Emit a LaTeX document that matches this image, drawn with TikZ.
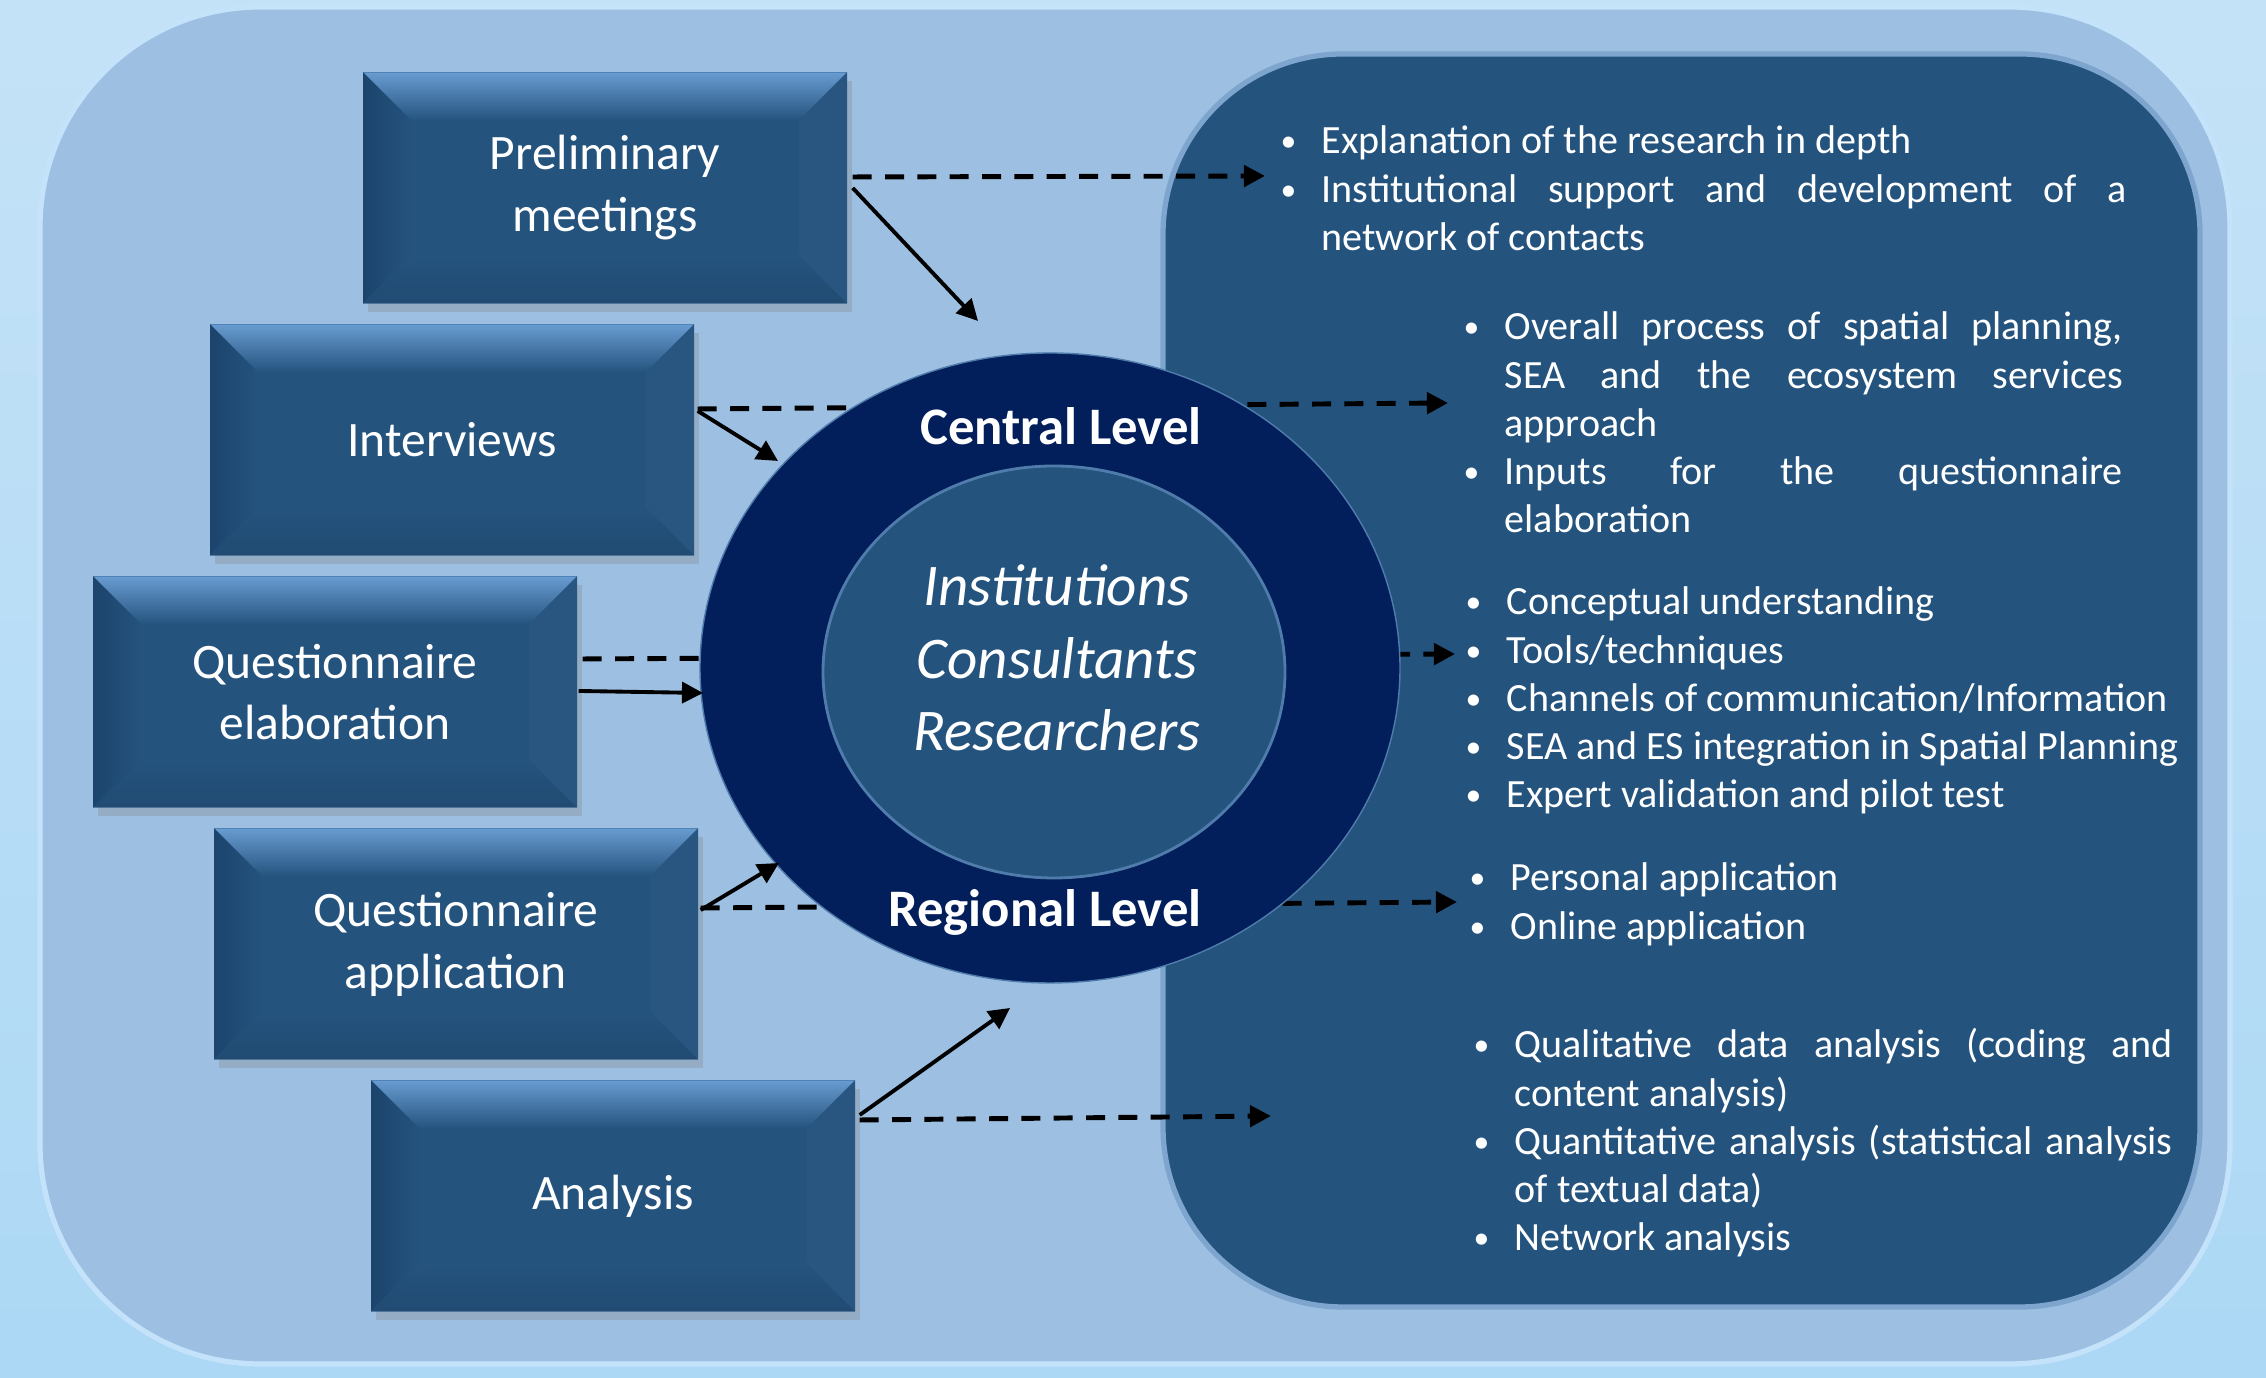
\documentclass[tikz,border=0pt]{standalone}
\usepackage{fontspec}
\setmainfont{Carlito}
\usepackage{tikz}
\usetikzlibrary{arrows.meta}
\usetikzlibrary{shapes.geometric}
\usetikzlibrary{shadows}
\definecolor{skytop}{RGB}{196,226,247}
\definecolor{skybottom}{RGB}{172,216,245}
\definecolor{paleblue}{RGB}{157,192,226}
\definecolor{paleedge}{RGB}{196,226,250}
\definecolor{boxblue}{RGB}{36,83,126}
\definecolor{boxlight}{RGB}{104,155,208}
\definecolor{boxdark}{RGB}{28,68,108}
\definecolor{ringblue}{RGB}{2,31,92}
\definecolor{coreedge}{RGB}{80,124,172}
\definecolor{panelrim}{RGB}{125,165,205}
\hyphenpenalty=10000
\tolerance=10000
\newlength{\bulletgap}
\setlength{\bulletgap}{0.44cm}
\newcommand{\bitem}[1]{\hangindent=\bulletgap\hangafter=1\noindent\makebox[\bulletgap][l]{\hspace{0.03cm}\raisebox{0.6pt}{\fontsize{9}{9}\selectfont\textbullet}}#1\par}
\tikzset{phase/.style = {fill = boxblue, text = white, inner sep = 0,
                         minimum width = 4.84cm, minimum height = 2.31cm,
                         align = center, font = \fontsize{14.1}{17.6}\selectfont,
                         drop shadow = {shadow xshift = 1.5pt, shadow yshift = -2.5pt, opacity = 0.3},
                         path picture = {
                             \coordinate (nw) at (path picture bounding box.north west);
                             \coordinate (ne) at (path picture bounding box.north east);
                             \coordinate (sw) at (path picture bounding box.south west);
                             \coordinate (se) at (path picture bounding box.south east);
                             \fill [top color = boxlight, bottom color = boxblue] (nw) -- (ne) -- ([shift = {(-0.48cm, -0.48cm)}] ne) -- ([shift = {(0.48cm, -0.48cm)}] nw) -- cycle;
                             \fill [left color = boxdark, right color = boxblue] (nw) -- ([shift = {(0.48cm, -0.48cm)}] nw) -- ([shift = {(0.48cm, 0.48cm)}] sw) -- (sw) -- cycle;
                             \fill [top color = boxblue, bottom color = boxblue!90!black] (sw) -- (se) -- ([shift = {(-0.48cm, 0.48cm)}] se) -- ([shift = {(0.48cm, 0.48cm)}] sw) -- cycle;
                             \fill [boxblue!98!white] (ne) -- (se) -- ([shift = {(-0.48cm, 0.48cm)}] se) -- ([shift = {(-0.48cm, -0.48cm)}] ne) -- cycle;}}}
\tikzset{ring/.style = {ellipse, fill = ringblue, draw = coreedge, inner sep = 0,
                        minimum width = 7.0cm, minimum height = 6.3cm}}
\tikzset{core/.style = {ellipse, fill = boxblue, draw = coreedge, line width = 0.8pt, inner sep = 0,
                        minimum width = 4.62cm, minimum height = 4.12cm}}
\tikzset{level/.style = {text = white, anchor = base, inner sep = 0,
                         font = \fontsize{15}{18}\selectfont\bfseries}}
\tikzset{who/.style = {text = white, anchor = base, inner sep = 0, text width = 4.2cm, align = center,
                       font = \fontsize{16.8}{20.6}\selectfont\itshape}}
\tikzset{list/.style = {text = white, anchor = base west, inner sep = 0, align = justify,
                        font = \fontsize{11.4}{13.7}\selectfont}}
\tikzset{lead/.style = {line width = 1.4pt, dash pattern = on 5.4pt off 3.8pt,
                        -{Triangle[length = 6pt, width = 6pt]}}}
\tikzset{feed/.style = {line width = 1.1pt, -{Triangle[length = 6pt, width = 6pt]}}}

\begin{document}
\begin{tikzpicture}
    \useasboundingbox (0, 0) rectangle (22.66, 13.78);
    \fill [top color = skytop, bottom color = skybottom] (0, 0) rectangle (22.66, 13.78);

    \fill [paleblue, draw = paleedge, line width = 1.5pt, rounded corners = 2.2cm] (0.40, 0.14) rectangle (22.30, 13.71);
    \fill [boxblue, draw = panelrim, line width = 1.5pt, rounded corners = 1.8cm] (11.63, 0.71) rectangle (22.00, 13.24);

    \node [phase] (meetings) at (6.05, 11.90) {Preliminary\\meetings};
    \node [phase] (interviews) at (4.52, 9.38) {Interviews};
    \node [phase] (elaboration) at (3.35, 6.86) {Questionnaire\\elaboration};
    \node [phase] (application) at (4.56, 4.34) {Questionnaire\\application};
    \node [phase] (analysis) at (6.13, 1.82) {Analysis};

    \coordinate (meetingsend) at (12.65, 12.02);
    \coordinate (interviewsend) at (14.48, 9.75);
    \coordinate (elaborationend) at (14.55, 7.24);
    \coordinate (applicationend) at (14.57, 4.76);
    \coordinate (analysisend) at (12.71, 2.62);

    \draw [lead] ([shift = {(0.05cm, 0.11cm)}] meetings.east) -- (meetingsend);
    \draw [lead] ([shift = {(0.03cm, 0.31cm)}] interviews.east) -- (interviewsend);
    \draw [lead] ([shift = {(0.05cm, 0.33cm)}] elaboration.east) -- (elaborationend);
    \draw [lead] ([shift = {(0.02cm, 0.36cm)}] application.east) -- (applicationend);
    \draw [lead] ([shift = {(0.04cm, 0.76cm)}] analysis.east) -- (analysisend);

    \node [ring] (ring) at (10.50, 7.10) {};
    \node [core] (core) at (10.54, 7.06) {};
    \node [level] (central) at (10.61, 9.33) {Central Level};
    \node [level] (regional) at (10.45, 4.51) {Regional Level};
    \node [who] (actors) at (10.57, 7.72) {Institutions\\Consultants\\Researchers};

    \coordinate (meetingstip) at (9.78, 10.57);
    \coordinate (interviewstip) at (7.78, 9.17);
    \coordinate (elaborationtip) at (7.03, 6.85);
    \coordinate (applicationtip) at (7.79, 5.15);
    \coordinate (analysistip) at (10.10, 3.70);

    \draw [feed] ([shift = {(0.05cm, 0.00cm)}] meetings.east) -- (meetingstip);
    \draw [feed] ([shift = {(0.03cm, 0.29cm)}] interviews.east) -- (interviewstip);
    \draw [feed] ([shift = {(0.01cm, 0.01cm)}] elaboration.east) -- (elaborationtip);
    \draw [feed] ([shift = {(0.02cm, 0.34cm)}] application.east) -- (applicationtip);
    \draw [feed] ([shift = {(0.04cm, 0.81cm)}] analysis.east) -- (analysistip);

    \node [list, text width = 8.49cm] (contacts) at (12.77, 12.24)
        {\bitem{Explanation of the research in depth}
         \bitem{Institutional support and development of a network of contacts}};
    \node [list, text width = 6.62cm] (process) at (14.60, 10.38)
        {\bitem{Overall process of spatial planning, SEA and the ecosystem services approach}
         \bitem{Inputs for the questionnaire elaboration}};
    \node [list, text width = 7.40cm] (design) at (14.62, 7.63)
        {\bitem{Conceptual understanding}
         \bitem{Tools/techniques}
         \bitem{Channels of communication/Information}
         \bitem{SEA and ES integration in Spatial Planning}
         \bitem{Expert validation and pilot test}};
    \node [list, text width = 6.00cm] (survey) at (14.66, 4.87)
        {\bitem{Personal application}
         \bitem{Online application}};
    \node [list, text width = 7.02cm] (methods) at (14.70, 3.20)
        {\bitem{Qualitative data analysis (coding and content analysis)}
         \bitem{Quantitative analysis (statistical analysis of textual data)}
         \bitem{Network analysis}};
\end{tikzpicture}
\end{document}
